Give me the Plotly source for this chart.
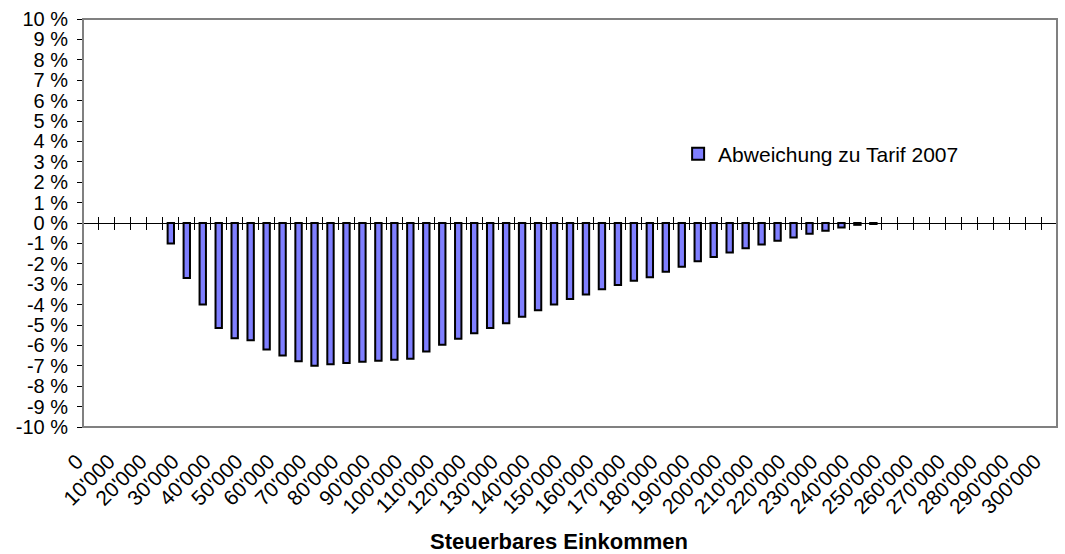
import plotly.graph_objects as go

# ---- data ----
categories = [("0" if v == 0 else f"{v//1000}'000") for v in range(0, 300001, 5000)]
bar_income = [f"{v//1000}'000" for v in range(25000, 245001, 5000)]
bar_values = [-1.0, -2.7, -4.0, -5.15, -5.65, -5.75, -6.2, -6.5, -6.78, -7.0,
              -6.93, -6.86, -6.8, -6.75, -6.7, -6.66, -6.3, -5.97, -5.67, -5.4,
              -5.15, -4.92, -4.6, -4.28, -4.0, -3.73, -3.5, -3.25, -3.04, -2.83,
              -2.66, -2.39, -2.14, -1.88, -1.67, -1.44, -1.24, -1.06, -0.87, -0.71,
              -0.53, -0.38, -0.22, -0.09, -0.05]
x_tick_labels = categories[::2]
y_tick_values = list(range(-10, 11))
y_tick_labels = [f"{v} %" for v in y_tick_values]
series_name = "Abweichung zu Tarif 2007"
x_title = "Steuerbares Einkommen"

FONT = "Liberation Sans, Arial, sans-serif"
n_cat = len(categories)

fig = go.Figure()
fig.add_trace(go.Bar(
    x=bar_income, y=bar_values, name=series_name,
    marker=dict(color="#7F7FFF", line=dict(color="black", width=2)),
    showlegend=True,
))

fig.update_layout(
    width=1065, height=554,
    margin=dict(l=83, r=8, t=19, b=127),
    paper_bgcolor="white", plot_bgcolor="white",
    font=dict(family=FONT, size=19, color="black"),
    bargap=0.6,
    showlegend=True,
    legend=dict(x=0.611, y=0.669, xanchor="left", yanchor="middle",
                bgcolor="rgba(0,0,0,0)", font=dict(size=21, family=FONT),
                borderwidth=0),
    xaxis=dict(type="category", categoryorder="array", categoryarray=categories,
               range=[-0.5, n_cat - 0.5], automargin=False,
               tickmode="array", tickvals=x_tick_labels, ticktext=x_tick_labels,
               tickangle=-45, ticks="", showgrid=False, zeroline=False,
               showline=False, tickfont=dict(size=21, family=FONT),
               ticklabelstandoff=17, ticklabelshift=-14),
    xaxis2=dict(overlaying="x", anchor="free", position=0.5, side="bottom",
                range=[-0.5, n_cat - 0.5], automargin=False,
                tickmode="array", tickvals=[k - 0.5 for k in range(1, n_cat)],
                ticks="outside", ticklen=6, tickcolor="black", tickwidth=1,
                showticklabels=False, showgrid=False, zeroline=False,
                showline=True, linecolor="black", linewidth=1),
    xaxis3=dict(overlaying="x", anchor="free", position=0.5, side="top",
                range=[-0.5, n_cat - 0.5], automargin=False,
                tickmode="array", tickvals=[k - 0.5 for k in range(1, n_cat)],
                ticks="outside", ticklen=6, tickcolor="black", tickwidth=1,
                showticklabels=False, showgrid=False, zeroline=False,
                showline=False),
    yaxis=dict(range=[-10, 10], tickmode="array", tickvals=y_tick_values,
               ticktext=y_tick_labels, ticks="outside", ticklen=5,
               tickcolor="black", showgrid=False, zeroline=False,
               showline=True, linecolor="black", linewidth=1, automargin=False,
               tickfont=dict(size=20, family=FONT), ticklabelstandoff=5),
    shapes=[dict(type="rect", xref="paper", yref="paper", x0=0, x1=1, y0=0, y1=1,
                 line=dict(color="#808080", width=2), layer="above")],
    annotations=[dict(text=f"<b>{x_title}</b>", xref="paper", yref="paper",
                      x=0.4884, y=-0.281, xanchor="center", yanchor="middle",
                      showarrow=False, font=dict(size=22, family=FONT))],
)

# invisible helper traces so the overlay axes render
fig.add_trace(go.Scatter(x=[None], y=[None], xaxis="x2", showlegend=False, hoverinfo="skip"))
fig.add_trace(go.Scatter(x=[None], y=[None], xaxis="x3", showlegend=False, hoverinfo="skip"))

fig.write_html(
    "out.html",
    config={"displayModeBar": False},
    post_script="document.body.style.margin='0px';document.body.style.overflow='hidden';",
)
